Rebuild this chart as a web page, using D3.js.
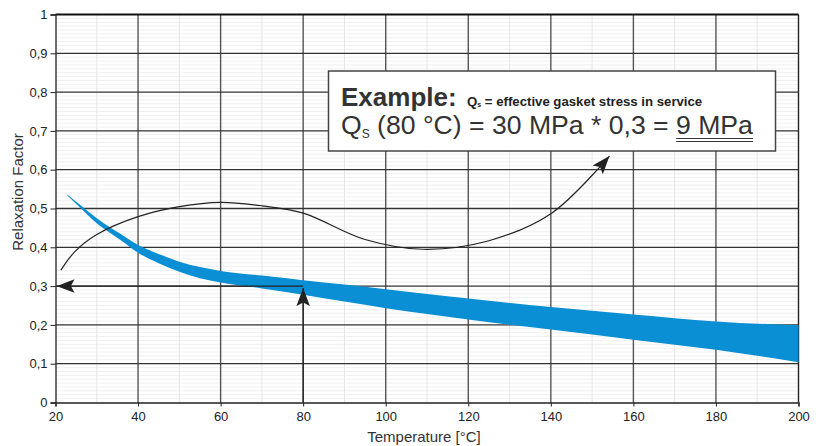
<!DOCTYPE html>
<html><head><meta charset="utf-8">
<script src="https://cdn.jsdelivr.net/npm/d3@7"></script>
<style>
html,body{margin:0;padding:0;background:#fff;}
svg{display:block;font-family:"Liberation Sans",Arial,sans-serif;}
</style></head>
<body><svg id="c" width="825" height="446"></svg>
<script>
// ---- data ----
const temps = [22.8, 26, 30, 33, 36, 40, 45, 50, 55, 60, 70, 80, 90, 100, 120, 140, 160, 180, 200];
const upperFactor = [0.536, 0.509, 0.475, 0.453, 0.433, 0.406, 0.383, 0.363, 0.349, 0.339, 0.327, 0.315, 0.304, 0.292, 0.268, 0.246, 0.227, 0.209, 0.199];
const lowerFactor = [0.534, 0.502, 0.462, 0.439, 0.417, 0.386, 0.359, 0.337, 0.320, 0.309, 0.294, 0.278, 0.260, 0.243, 0.214, 0.188, 0.162, 0.136, 0.104];
const xTicks = [20, 40, 60, 80, 100, 120, 140, 160, 180, 200];
const yTicks = [0, 0.1, 0.2, 0.3, 0.4, 0.5, 0.6, 0.7, 0.8, 0.9, 1];
const yTickLabels = ["0", "0,1", "0,2", "0,3", "0,4", "0,5", "0,6", "0,7", "0,8", "0,9", "1"];
// curved guide arrow (temperature, factor)
const curveT = [21.3, 24.7, 30, 40, 50, 60, 70, 80, 95, 109, 125, 140.2, 154.2];
const curveV = [0.341, 0.389, 0.433, 0.479, 0.505, 0.516, 0.507, 0.488, 0.420, 0.395, 0.417, 0.488, 0.635];
// example reading
const exampleT = 80, exampleV = 0.3;

const svg = d3.select("#c");
const x = d3.scaleLinear().domain([20, 200]).range([55.5, 798.5]);
const y = d3.scaleLinear().domain([0, 1]).range([402.5, 14.5]);

// minor grid
const g = svg.append("g");
g.selectAll(".my").data(d3.range(1, 100).map(i => i / 100).filter(v => Math.round(v * 100) % 10 !== 0))
  .enter().append("line")
  .attr("x1", x(20)).attr("x2", x(200)).attr("y1", d => y(d)).attr("y2", d => y(d))
  .attr("stroke", "#ececec").attr("stroke-width", 0.8);
g.selectAll(".mx").data(d3.range(30, 200, 20))
  .enter().append("line")
  .attr("y1", y(0)).attr("y2", y(1)).attr("x1", d => x(d)).attr("x2", d => x(d))
  .attr("stroke", "#e6e6e6").attr("stroke-width", 1);
// major grid
g.selectAll(".vx").data(xTicks.slice(1))
  .enter().append("line")
  .attr("y1", y(0)).attr("y2", y(1)).attr("x1", d => x(d)).attr("x2", d => x(d))
  .attr("stroke", d => d === 200 ? "#222" : "#555").attr("stroke-width", 1.4);
g.selectAll(".hy").data(yTicks.slice(1))
  .enter().append("line")
  .attr("x1", x(20)).attr("x2", x(200)).attr("y1", d => y(d)).attr("y2", d => y(d))
  .attr("stroke", d => d === 1 ? "#111" : "#333").attr("stroke-width", d => d === 1 ? 1.8 : 1.3);

// axes
const yAxis = d3.axisLeft(y).tickValues(yTicks).tickFormat((d, i) => yTickLabels[i]).tickSize(5).tickPadding(3);
const ya = svg.append("g").attr("transform", `translate(${x(20)},0)`).call(yAxis);
const xAxis = d3.axisBottom(x).tickValues(xTicks).tickSize(4).tickPadding(5);
const xa = svg.append("g").attr("transform", `translate(0,${y(0)})`).call(xAxis);
[ya, xa].forEach(a => {
  a.select(".domain").attr("stroke", "#222").attr("stroke-width", 1.3);
  a.selectAll(".tick line").attr("stroke", "#222");
  a.selectAll("text").attr("fill", "#222").style("font-size", "13px").style("font-family", "Liberation Sans, Arial, sans-serif");
});

// band
const bandData = temps.map((t, i) => ({ t, u: upperFactor[i], l: lowerFactor[i] }));
svg.append("path").datum(bandData)
  .attr("d", d3.area().x(d => x(d.t)).y0(d => y(d.l)).y1(d => y(d.u)).curve(d3.curveMonotoneX))
  .attr("fill", "#0a8ed4");

// arrowheads
const defs = svg.append("defs");
defs.append("marker").attr("id", "ah").attr("viewBox", "0 -8 20 16")
  .attr("refX", 20).attr("refY", 0).attr("markerWidth", 18).attr("markerHeight", 15)
  .attr("markerUnits", "userSpaceOnUse").attr("orient", "auto")
  .append("path").attr("d", "M20,0 L0,-7.5 L4,0 L0,7.5 Z").attr("fill", "#222");

// curved arrow
const curvePts = curveT.map((t, i) => [t, curveV[i]]);
svg.append("path").datum(curvePts)
  .attr("d", d3.line().x(d => x(d[0])).y(d => y(d[1])).curve(d3.curveCatmullRom.alpha(0.5)))
  .attr("fill", "none").attr("stroke", "#222").attr("stroke-width", 1.2)
  .attr("marker-end", "url(#ah)");

// example read arrows
svg.append("line").attr("x1", x(exampleT)).attr("x2", x(exampleT)).attr("y1", y(0)).attr("y2", y(exampleV) + 2)
  .attr("stroke", "#222").attr("stroke-width", 1.3).attr("marker-end", "url(#ah)");
svg.append("line").attr("x1", x(exampleT)).attr("x2", x(20) + 1).attr("y1", y(exampleV)).attr("y2", y(exampleV))
  .attr("stroke", "#222").attr("stroke-width", 1.3).attr("marker-end", "url(#ah)");

// axis titles
svg.append("text").attr("x", 424).attr("y", 442).attr("text-anchor", "middle")
  .attr("fill", "#333").style("font-size", "15px").text("Temperature [°C]");
svg.append("text").attr("transform", "translate(23,192) rotate(-90)").attr("text-anchor", "middle")
  .attr("fill", "#333").style("font-size", "15px").text("Relaxation Factor");

// example box
svg.append("rect").attr("x", 328.5).attr("y", 71).attr("width", 447).attr("height", 80)
  .attr("fill", "#fff").attr("stroke", "#444").attr("stroke-width", 1.5);
const t1 = svg.append("text").attr("x", 341).attr("y", 106).attr("fill", "#333");
t1.append("tspan").attr("font-weight", "bold").style("font-size", "26px").text("Example:");
const t1b = svg.append("text").attr("x", 467).attr("y", 105.5).attr("fill", "#222").attr("font-weight", "bold").style("font-size", "13.2px");
t1b.append("tspan").text("Q");
t1b.append("tspan").style("font-size", "7px").attr("dy", 1.5).text("s");
t1b.append("tspan").attr("dy", -1.5).text(" = effective gasket stress in service");

const t2 = svg.append("text").attr("x", 341).attr("y", 134).attr("fill", "#333").style("font-size", "26.6px");
t2.append("tspan").text("Q");
t2.append("tspan").style("font-size", "12px").attr("dy", 4).text("S");
t2.append("tspan").attr("dy", -4).text(" (80 °C) = 30 MPa * 0,3 = ");
const res = t2.append("tspan").text("9 MPa");
const full = t2.node().getBBox();
const resW = res.node().getComputedTextLength();
const x1u = full.x + full.width - resW, x2u = full.x + full.width;
[138.5, 141.5].forEach(yy => svg.append("line").attr("x1", x1u).attr("x2", x2u).attr("y1", yy).attr("y2", yy)
  .attr("stroke", "#333").attr("stroke-width", 1.2));
</script></body></html>
